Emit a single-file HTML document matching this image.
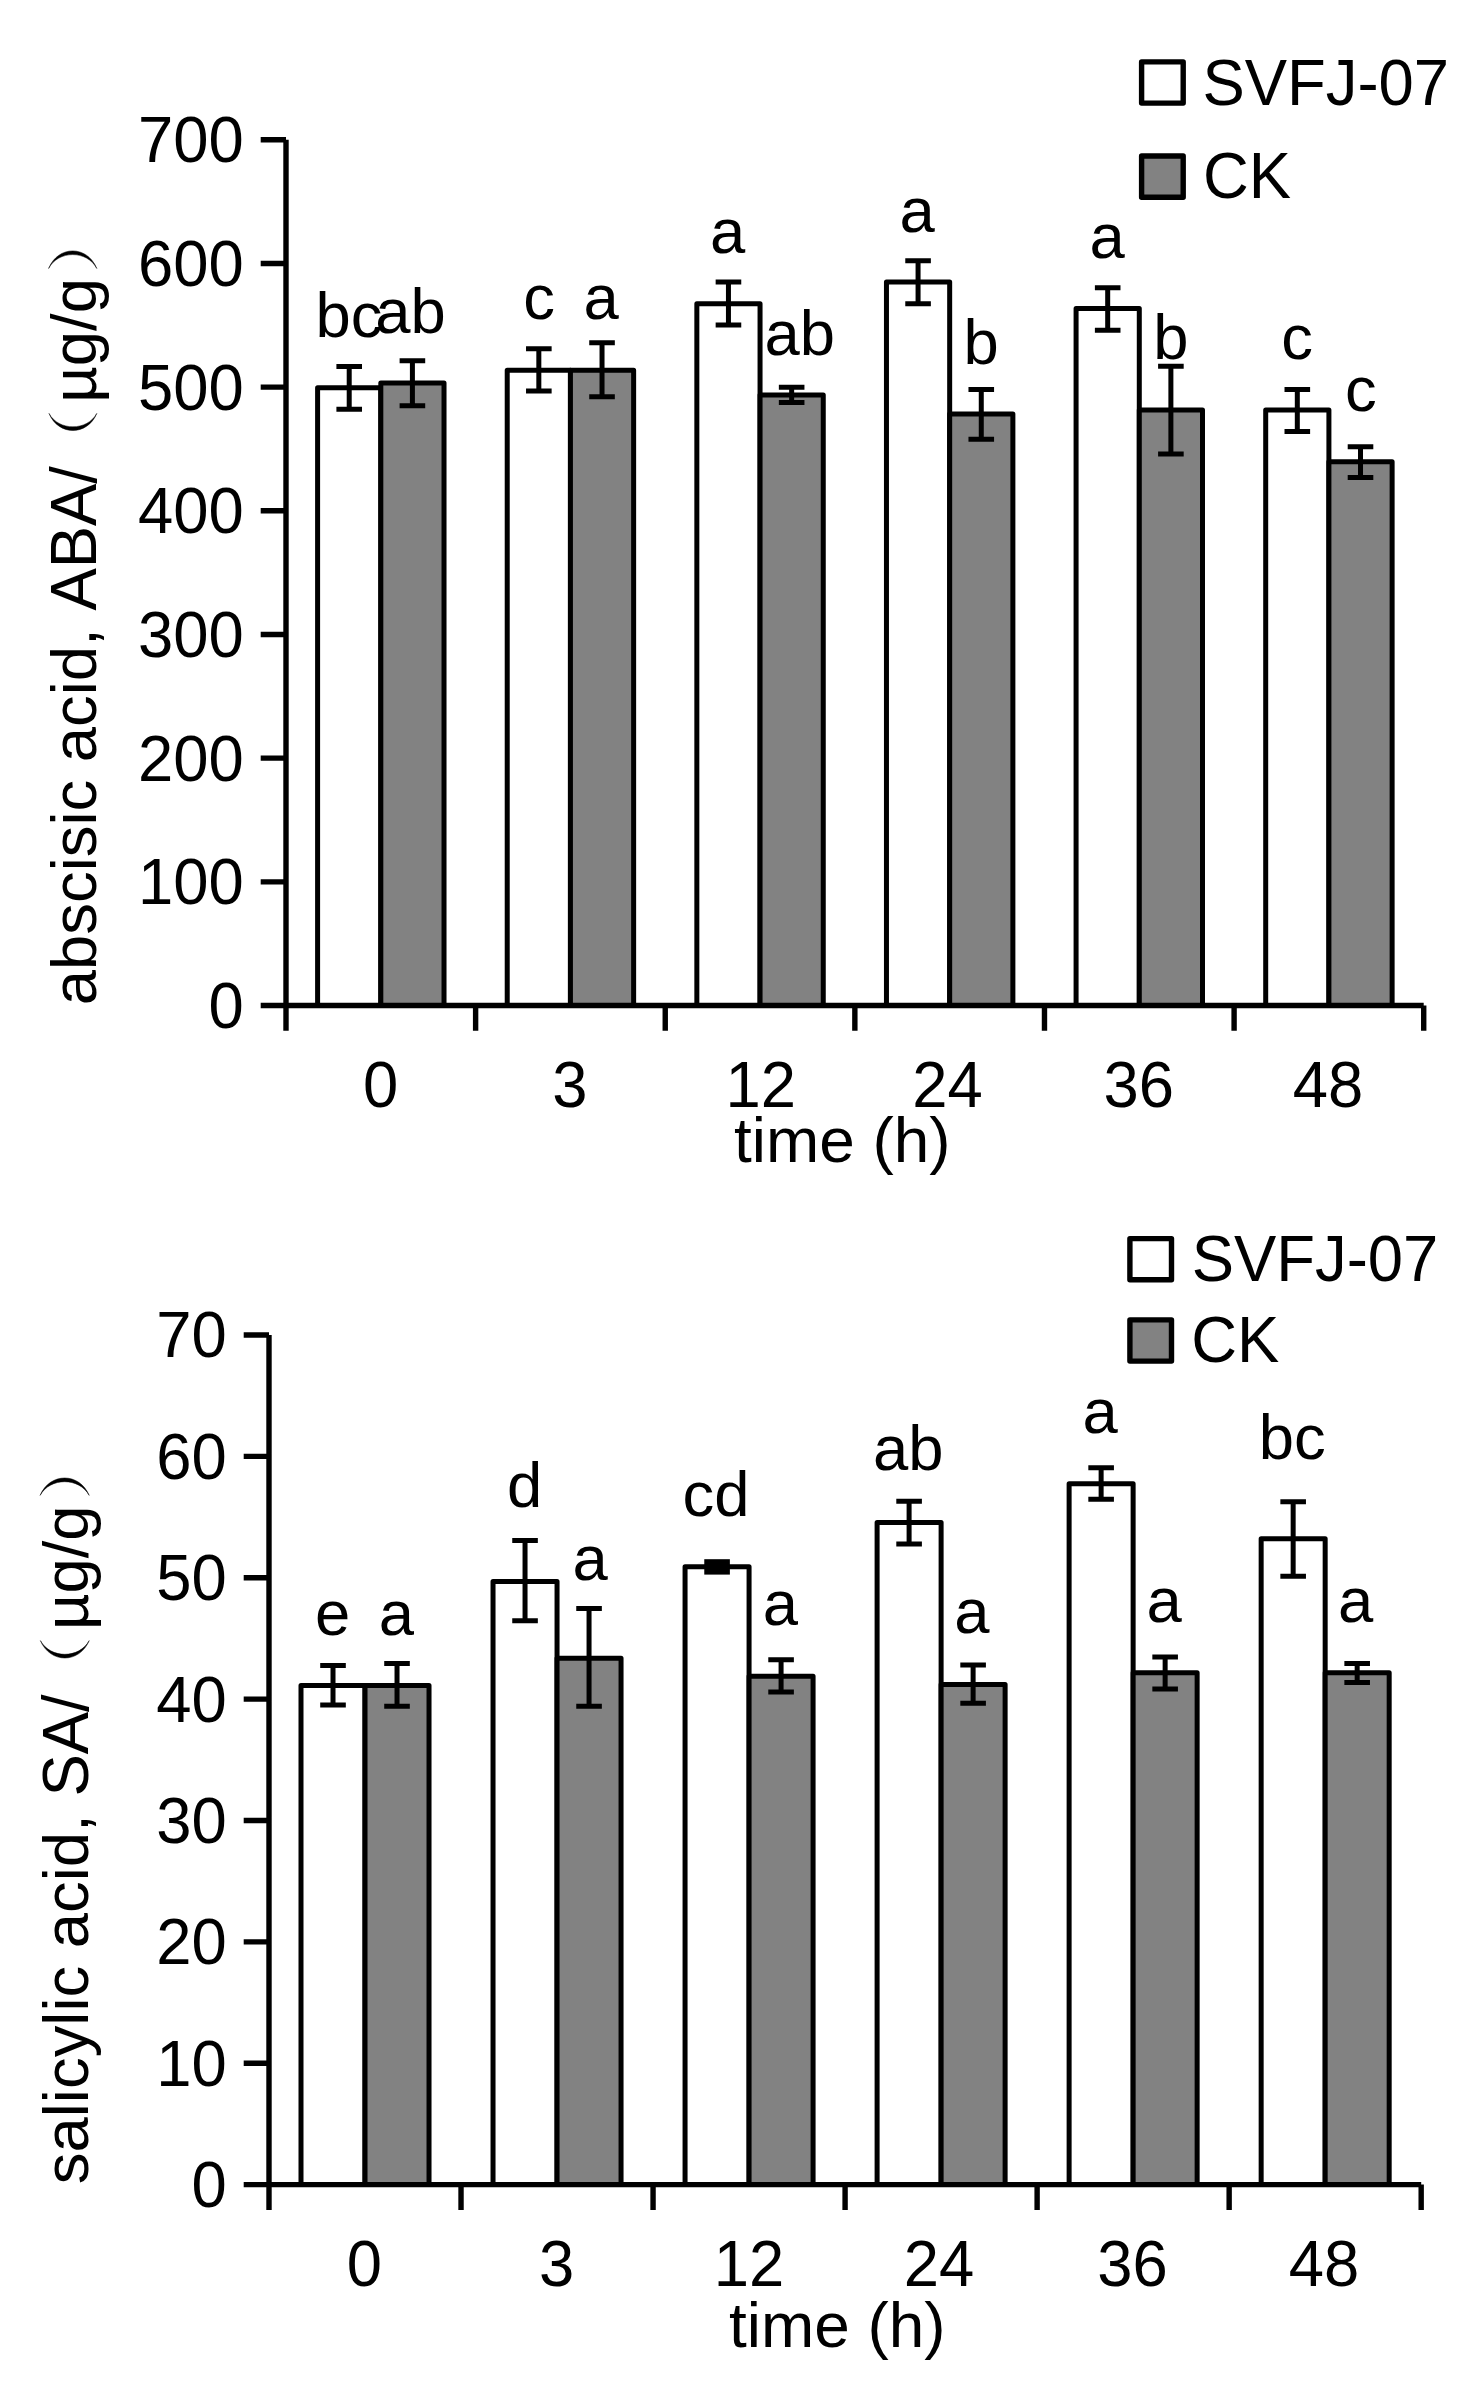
<!DOCTYPE html>
<html><head><meta charset="utf-8"><title>Figure</title>
<style>
html,body{margin:0;padding:0;background:#fff;}
svg{display:block;}
text{font-family:"Liberation Sans",sans-serif;fill:#000;}
</style></head><body>
<svg width="1482" height="2387" viewBox="0 0 1482 2387">
<rect width="1482" height="2387" fill="#fff"/>
<rect x="317.60" y="387.70" width="63.21" height="617.80" fill="#fff" stroke="#000" stroke-width="5.0" stroke-linejoin="round"/>
<rect x="380.81" y="383.10" width="63.21" height="622.40" fill="#828282" stroke="#000" stroke-width="5.0" stroke-linejoin="round"/>
<path d="M349.21,366.40V409.20M336.41,366.40h25.6M336.41,409.20h25.6" stroke="#000" stroke-width="5" fill="none"/>
<path d="M412.41,360.80V405.80M399.61,360.80h25.6M399.61,405.80h25.6" stroke="#000" stroke-width="5" fill="none"/>
<rect x="507.22" y="370.20" width="63.21" height="635.30" fill="#fff" stroke="#000" stroke-width="5.0" stroke-linejoin="round"/>
<rect x="570.43" y="370.20" width="63.21" height="635.30" fill="#828282" stroke="#000" stroke-width="5.0" stroke-linejoin="round"/>
<path d="M538.83,348.70V391.00M526.03,348.70h25.6M526.03,391.00h25.6" stroke="#000" stroke-width="5" fill="none"/>
<path d="M602.03,342.80V396.70M589.23,342.80h25.6M589.23,396.70h25.6" stroke="#000" stroke-width="5" fill="none"/>
<rect x="696.84" y="303.80" width="63.21" height="701.70" fill="#fff" stroke="#000" stroke-width="5.0" stroke-linejoin="round"/>
<rect x="760.05" y="395.10" width="63.21" height="610.40" fill="#828282" stroke="#000" stroke-width="5.0" stroke-linejoin="round"/>
<path d="M728.45,282.00V325.10M715.65,282.00h25.6M715.65,325.10h25.6" stroke="#000" stroke-width="5" fill="none"/>
<path d="M791.65,387.20V402.60M778.85,387.20h25.6M778.85,402.60h25.6" stroke="#000" stroke-width="5" fill="none"/>
<rect x="886.46" y="282.00" width="63.21" height="723.50" fill="#fff" stroke="#000" stroke-width="5.0" stroke-linejoin="round"/>
<rect x="949.67" y="414.10" width="63.21" height="591.40" fill="#828282" stroke="#000" stroke-width="5.0" stroke-linejoin="round"/>
<path d="M918.07,260.80V303.80M905.27,260.80h25.6M905.27,303.80h25.6" stroke="#000" stroke-width="5" fill="none"/>
<path d="M981.27,389.60V439.20M968.47,389.60h25.6M968.47,439.20h25.6" stroke="#000" stroke-width="5" fill="none"/>
<rect x="1076.08" y="308.50" width="63.21" height="697.00" fill="#fff" stroke="#000" stroke-width="5.0" stroke-linejoin="round"/>
<rect x="1139.29" y="410.00" width="63.21" height="595.50" fill="#828282" stroke="#000" stroke-width="5.0" stroke-linejoin="round"/>
<path d="M1107.69,287.70V330.30M1094.89,287.70h25.6M1094.89,330.30h25.6" stroke="#000" stroke-width="5" fill="none"/>
<path d="M1170.89,366.20V454.10M1158.09,366.20h25.6M1158.09,454.10h25.6" stroke="#000" stroke-width="5" fill="none"/>
<rect x="1265.70" y="410.00" width="63.21" height="595.50" fill="#fff" stroke="#000" stroke-width="5.0" stroke-linejoin="round"/>
<rect x="1328.91" y="461.80" width="63.21" height="543.70" fill="#828282" stroke="#000" stroke-width="5.0" stroke-linejoin="round"/>
<path d="M1297.31,389.40V431.40M1284.51,389.40h25.6M1284.51,431.40h25.6" stroke="#000" stroke-width="5" fill="none"/>
<path d="M1360.51,446.70V477.60M1347.71,446.70h25.6M1347.71,477.60h25.6" stroke="#000" stroke-width="5" fill="none"/>
<path d="M286.00,139.80V1030.80M260.70,1005.50H286.00M260.70,881.83H286.00M260.70,758.16H286.00M260.70,634.49H286.00M260.70,510.81H286.00M260.70,387.14H286.00M260.70,263.47H286.00M260.70,139.80H286.00M286.00,1005.50H1423.70M475.62,1005.50v25.30M665.24,1005.50v25.30M854.86,1005.50v25.30M1044.48,1005.50v25.30M1234.10,1005.50v25.30M1423.72,1005.50v25.30" stroke="#000" stroke-width="5.4" fill="none"/>
<text transform="translate(208.52,1027.90) scale(1,1.013)" font-size="63.4">0</text>
<text transform="translate(138.00,904.23) scale(1,1.013)" font-size="63.4">100</text>
<text transform="translate(138.00,780.56) scale(1,1.013)" font-size="63.4">200</text>
<text transform="translate(138.00,656.89) scale(1,1.013)" font-size="63.4">300</text>
<text transform="translate(138.00,533.21) scale(1,1.013)" font-size="63.4">400</text>
<text transform="translate(138.00,409.54) scale(1,1.013)" font-size="63.4">500</text>
<text transform="translate(138.00,285.87) scale(1,1.013)" font-size="63.4">600</text>
<text transform="translate(138.00,162.20) scale(1,1.013)" font-size="63.4">700</text>
<text transform="translate(363.02,1107.40) scale(1,1.013)" font-size="63.4">0</text>
<text transform="translate(552.36,1107.40) scale(1,1.013)" font-size="63.4">3</text>
<text transform="translate(725.57,1107.40) scale(1,1.013)" font-size="63.4">12</text>
<text transform="translate(912.37,1107.40) scale(1,1.013)" font-size="63.4">24</text>
<text transform="translate(1103.53,1107.40) scale(1,1.013)" font-size="63.4">36</text>
<text transform="translate(1292.74,1107.40) scale(1,1.013)" font-size="63.4">48</text>
<text transform="translate(734.06,1162.30) scale(1,0.975)" font-size="63.9">time (h)</text>
<text transform="translate(95.80,1005.25) rotate(-90) scale(1,0.98)" font-size="63.4" xml:space="preserve">abscisic acid, </text>
<text transform="translate(95.80,610.61) rotate(-90) scale(1,1.03)" font-size="63.4" xml:space="preserve">ABA/</text>
<path d="M49.00,413.40 C58.56,436.20 87.24,436.20 96.80,413.40 C87.24,431.27 58.56,431.27 49.00,413.40Z" fill="#000" stroke="#000" stroke-width="0.5"/>
<text transform="translate(95.80,402.71) rotate(-90) scale(1,0.98)" font-size="63.4" xml:space="preserve">µg/g</text>
<path d="M48.60,268.50 C58.24,245.03 87.16,245.03 96.80,268.50 C87.16,249.97 58.24,249.97 48.60,268.50Z" fill="#000" stroke="#000" stroke-width="0.5"/>
<rect x="1141.60" y="61.90" width="41.6" height="41.2" fill="#fff" stroke="#000" stroke-width="5.4" stroke-linejoin="round"/>
<rect x="1141.60" y="156.00" width="41.6" height="41.2" fill="#828282" stroke="#000" stroke-width="5.4" stroke-linejoin="round"/>
<text transform="translate(1202.54,104.60) scale(1,1.03)" font-size="63.4">SVFJ-07</text>
<text transform="translate(1203.06,198.20) scale(1,1.03)" font-size="63.4">CK</text>
<text transform="translate(315.56,336.70) scale(1,0.98)" font-size="63.4">bc</text>
<text transform="translate(375.22,332.70) scale(1,0.98)" font-size="63.4">ab</text>
<text transform="translate(523.14,319.30) scale(1,0.98)" font-size="63.4">c</text>
<text transform="translate(583.51,319.30) scale(1,0.98)" font-size="63.4">a</text>
<text transform="translate(709.91,253.40) scale(1,0.98)" font-size="63.4">a</text>
<text transform="translate(764.47,355.20) scale(1,0.98)" font-size="63.4">ab</text>
<text transform="translate(899.61,232.10) scale(1,0.98)" font-size="63.4">a</text>
<text transform="translate(963.46,363.70) scale(1,0.98)" font-size="63.4">b</text>
<text transform="translate(1089.41,258.00) scale(1,0.98)" font-size="63.4">a</text>
<text transform="translate(1153.16,359.30) scale(1,0.98)" font-size="63.4">b</text>
<text transform="translate(1281.34,359.30) scale(1,0.98)" font-size="63.4">c</text>
<text transform="translate(1344.94,411.10) scale(1,0.98)" font-size="63.4">c</text>
<rect x="301.00" y="1685.60" width="64.01" height="499.00" fill="#fff" stroke="#000" stroke-width="5.0" stroke-linejoin="round"/>
<rect x="365.01" y="1685.60" width="64.01" height="499.00" fill="#828282" stroke="#000" stroke-width="5.0" stroke-linejoin="round"/>
<path d="M333.01,1665.60V1704.90M320.21,1665.60h25.6M320.21,1704.90h25.6" stroke="#000" stroke-width="5" fill="none"/>
<path d="M397.02,1663.60V1706.20M384.22,1663.60h25.6M384.22,1706.20h25.6" stroke="#000" stroke-width="5" fill="none"/>
<rect x="493.03" y="1581.50" width="64.01" height="603.10" fill="#fff" stroke="#000" stroke-width="5.0" stroke-linejoin="round"/>
<rect x="557.04" y="1658.20" width="64.01" height="526.40" fill="#828282" stroke="#000" stroke-width="5.0" stroke-linejoin="round"/>
<path d="M525.04,1540.50V1620.80M512.24,1540.50h25.6M512.24,1620.80h25.6" stroke="#000" stroke-width="5" fill="none"/>
<path d="M589.05,1608.50V1706.20M576.25,1608.50h25.6M576.25,1706.20h25.6" stroke="#000" stroke-width="5" fill="none"/>
<rect x="685.06" y="1566.80" width="64.01" height="617.80" fill="#fff" stroke="#000" stroke-width="5.0" stroke-linejoin="round"/>
<rect x="749.07" y="1676.20" width="64.01" height="508.40" fill="#828282" stroke="#000" stroke-width="5.0" stroke-linejoin="round"/>
<rect x="704.27" y="1559.20" width="25.6" height="15.40" fill="#000"/>
<path d="M781.08,1659.70V1692.00M768.28,1659.70h25.6M768.28,1692.00h25.6" stroke="#000" stroke-width="5" fill="none"/>
<rect x="877.10" y="1522.60" width="64.01" height="662.00" fill="#fff" stroke="#000" stroke-width="5.0" stroke-linejoin="round"/>
<rect x="941.11" y="1684.40" width="64.01" height="500.20" fill="#828282" stroke="#000" stroke-width="5.0" stroke-linejoin="round"/>
<path d="M909.10,1501.30V1544.10M896.30,1501.30h25.6M896.30,1544.10h25.6" stroke="#000" stroke-width="5" fill="none"/>
<path d="M973.11,1665.10V1703.30M960.31,1665.10h25.6M960.31,1703.30h25.6" stroke="#000" stroke-width="5" fill="none"/>
<rect x="1069.12" y="1483.80" width="64.01" height="700.80" fill="#fff" stroke="#000" stroke-width="5.0" stroke-linejoin="round"/>
<rect x="1133.13" y="1672.80" width="64.01" height="511.80" fill="#828282" stroke="#000" stroke-width="5.0" stroke-linejoin="round"/>
<path d="M1101.13,1467.80V1499.20M1088.33,1467.80h25.6M1088.33,1499.20h25.6" stroke="#000" stroke-width="5" fill="none"/>
<path d="M1165.14,1656.90V1689.10M1152.34,1656.90h25.6M1152.34,1689.10h25.6" stroke="#000" stroke-width="5" fill="none"/>
<rect x="1261.16" y="1538.70" width="64.01" height="645.90" fill="#fff" stroke="#000" stroke-width="5.0" stroke-linejoin="round"/>
<rect x="1325.17" y="1672.80" width="64.01" height="511.80" fill="#828282" stroke="#000" stroke-width="5.0" stroke-linejoin="round"/>
<path d="M1293.16,1501.80V1576.20M1280.36,1501.80h25.6M1280.36,1576.20h25.6" stroke="#000" stroke-width="5" fill="none"/>
<path d="M1357.17,1663.50V1682.60M1344.37,1663.50h25.6M1344.37,1682.60h25.6" stroke="#000" stroke-width="5" fill="none"/>
<path d="M269.00,1335.00V2209.90M243.70,2184.60H269.00M243.70,2063.23H269.00M243.70,1941.86H269.00M243.70,1820.49H269.00M243.70,1699.11H269.00M243.70,1577.74H269.00M243.70,1456.37H269.00M243.70,1335.00H269.00M269.00,2184.60H1421.20M461.03,2184.60v25.30M653.06,2184.60v25.30M845.09,2184.60v25.30M1037.12,2184.60v25.30M1229.15,2184.60v25.30M1421.18,2184.60v25.30" stroke="#000" stroke-width="5.4" fill="none"/>
<text transform="translate(191.52,2207.00) scale(1,1.013)" font-size="63.4">0</text>
<text transform="translate(156.26,2085.63) scale(1,1.013)" font-size="63.4">10</text>
<text transform="translate(156.26,1964.26) scale(1,1.013)" font-size="63.4">20</text>
<text transform="translate(156.26,1842.89) scale(1,1.013)" font-size="63.4">30</text>
<text transform="translate(156.26,1721.51) scale(1,1.013)" font-size="63.4">40</text>
<text transform="translate(156.26,1600.14) scale(1,1.013)" font-size="63.4">50</text>
<text transform="translate(156.26,1478.77) scale(1,1.013)" font-size="63.4">60</text>
<text transform="translate(156.26,1357.40) scale(1,1.013)" font-size="63.4">70</text>
<text transform="translate(346.87,2286.00) scale(1,1.013)" font-size="63.4">0</text>
<text transform="translate(538.96,2286.00) scale(1,1.013)" font-size="63.4">3</text>
<text transform="translate(713.87,2286.00) scale(1,1.013)" font-size="63.4">12</text>
<text transform="translate(903.72,2286.00) scale(1,1.013)" font-size="63.4">24</text>
<text transform="translate(1097.33,2286.00) scale(1,1.013)" font-size="63.4">36</text>
<text transform="translate(1288.64,2286.00) scale(1,1.013)" font-size="63.4">48</text>
<text transform="translate(729.11,2347.30) scale(1,0.975)" font-size="63.9">time (h)</text>
<text transform="translate(87.90,2184.15) rotate(-90) scale(1,0.98)" font-size="63.4" xml:space="preserve">salicylic acid, </text>
<text transform="translate(87.90,1796.60) rotate(-90) scale(1,1.03)" font-size="63.4" xml:space="preserve">SA/</text>
<path d="M40.40,1640.60 C50.16,1663.80 79.44,1663.80 89.20,1640.60 C79.44,1658.87 50.16,1658.87 40.40,1640.60Z" fill="#000" stroke="#000" stroke-width="0.5"/>
<text transform="translate(87.90,1630.06) rotate(-90) scale(1,0.98)" font-size="63.4" xml:space="preserve">µg/g</text>
<path d="M40.10,1495.40 C49.92,1472.20 79.38,1472.20 89.20,1495.40 C79.38,1477.13 49.92,1477.13 40.10,1495.40Z" fill="#000" stroke="#000" stroke-width="0.5"/>
<rect x="1129.90" y="1238.60" width="41.6" height="41.2" fill="#fff" stroke="#000" stroke-width="5.4" stroke-linejoin="round"/>
<rect x="1129.90" y="1319.90" width="41.6" height="41.2" fill="#828282" stroke="#000" stroke-width="5.4" stroke-linejoin="round"/>
<text transform="translate(1191.79,1280.70) scale(1,1.03)" font-size="63.4">SVFJ-07</text>
<text transform="translate(1191.31,1362.00) scale(1,1.03)" font-size="63.4">CK</text>
<text transform="translate(314.98,1635.00) scale(1,0.98)" font-size="63.4">e</text>
<text transform="translate(378.81,1635.00) scale(1,0.98)" font-size="63.4">a</text>
<text transform="translate(506.88,1507.30) scale(1,0.98)" font-size="63.4">d</text>
<text transform="translate(572.41,1579.80) scale(1,0.98)" font-size="63.4">a</text>
<text transform="translate(682.62,1515.50) scale(1,0.98)" font-size="63.4">cd</text>
<text transform="translate(762.71,1625.20) scale(1,0.98)" font-size="63.4">a</text>
<text transform="translate(873.02,1470.10) scale(1,0.98)" font-size="63.4">ab</text>
<text transform="translate(954.21,1632.90) scale(1,0.98)" font-size="63.4">a</text>
<text transform="translate(1082.41,1432.70) scale(1,0.98)" font-size="63.4">a</text>
<text transform="translate(1146.51,1621.60) scale(1,0.98)" font-size="63.4">a</text>
<text transform="translate(1258.81,1459.10) scale(1,0.98)" font-size="63.4">bc</text>
<text transform="translate(1338.11,1621.60) scale(1,0.98)" font-size="63.4">a</text>
</svg></body></html>
